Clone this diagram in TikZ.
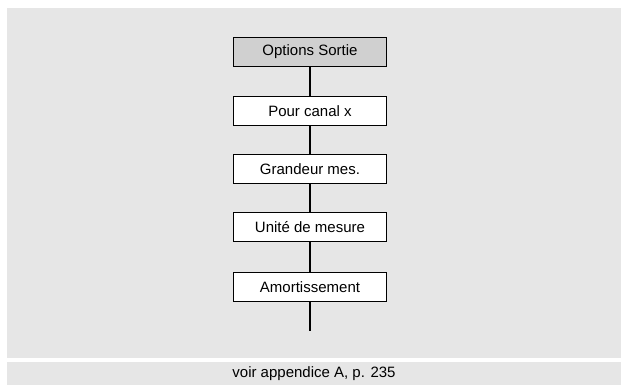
\documentclass[tikz,border=0pt]{standalone}
\usepackage{fontspec}
\setmainfont{Liberation Sans}
\usepackage{tikz}

\definecolor{panelgray}{HTML}{E6E6E6}
\definecolor{headgray}{HTML}{D0D0D0}

\tikzset{
  menubox/.style={draw=black, line width=1.5pt, fill=white, minimum width=153pt,
    minimum height=29pt, inner sep=0pt, font=\fontsize{15}{18}\selectfont},
  link/.style={line width=1.4pt}
}

\begin{document}
\begin{tikzpicture}[x=1pt,y=-1pt]
 \useasboundingbox (0,0) rectangle (621,385);
 \fill[panelgray] (7,8) rectangle (621,358);
 \fill[panelgray] (7,362) rectangle (621,385);

 \node[menubox, fill=headgray] (M0) at (310,52) {Options Sortie};
 \node[menubox] (M1) at (310,111) {Pour canal x};
 \node[menubox] (M2) at (310,169) {Grandeur mes.};
 \node[menubox] (M3) at (310,227) {Unité de mesure};
 \node[menubox] (M4) at (310,287) {Amortissement};
 \coordinate (M5) at (310,331);
 \node[font=\fontsize{15}{18}\selectfont] (foot) at (314,374) {voir appendice A, p. 235};

 \path[link] (M0) edge (M1) (M1) edge (M2) (M2) edge (M3) (M3) edge (M4);
 \draw[link] (M4.south) -- (M5);
\end{tikzpicture}
\end{document}
